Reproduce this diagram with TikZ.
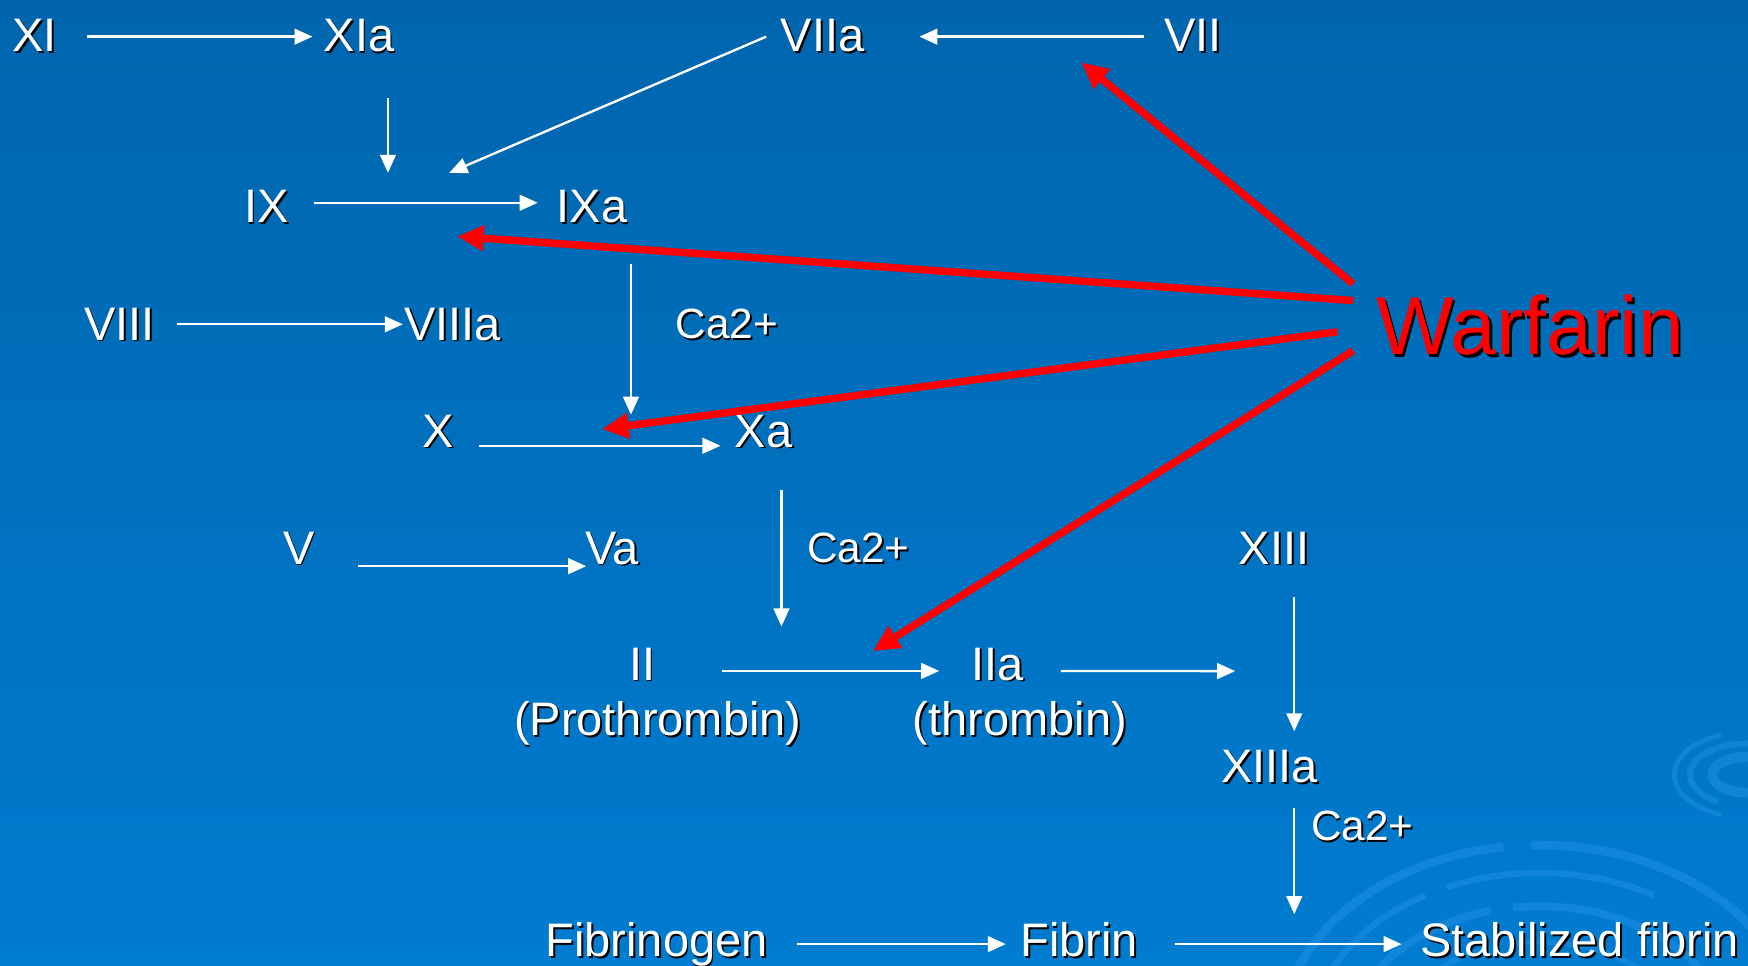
\documentclass[tikz,border=0pt]{standalone}
\usepackage{fontspec}
\setmainfont{Liberation Sans}
\usetikzlibrary{arrows.meta}

\definecolor{bgtop}{RGB}{0,101,173}
\definecolor{bgmid}{RGB}{0,106,181}
\definecolor{bgbot}{RGB}{0,124,208}
\definecolor{ring}{RGB}{40,150,235}

\tikzset{
  fac/.style={text=white, font=\fontsize{12}{14}\selectfont, inner sep=0pt,
              text height=8.6pt, text depth=0pt, anchor=base},
  ion/.style={fac, font=\fontsize{10.8}{13}\selectfont, text height=7.7pt},
  drug/.style={fac, text=red, font=\fontsize{21}{25}\selectfont, text height=15pt},
  drop/.style={text=black, shift={(0.45pt,-0.45pt)}},
  bigdrop/.style={text=black, shift={(0.7pt,-0.7pt)}},
  wa/.style={draw=white, line width=0.6pt, -{Triangle[length=4.6pt,width=4pt]}},
  ra/.style={draw=red, line width=1.9pt, -{Triangle[length=6.8pt,width=6.2pt]}},
  swirl/.style={draw=ring, opacity=0.4},
}

% label with a dark drop shadow: [style]{name}{position}{text}
\newcommand\lbl[4][fac]{%
  \node[#1,drop] (#2-sh) at (#3) {#4};
  \node[#1] (#2) at (#3) {#4};}

\begin{document}
\begin{tikzpicture}[x=0.1mm,y=-0.1mm]
  % background
  \shade[top color=bgtop, middle color=bgmid, bottom color=bgbot]
    (0,0) rectangle (1568,866);
  \useasboundingbox (0,0) rectangle (1568,866);

  % faint ripples in the lower right
  \begin{scope}
    \clip (0,0) rectangle (1568,866);
    \draw[swirl, line width=2.2pt] (1381,933) ++(190:233 and 175) arc (190:262:233 and 175);
    \draw[swirl, line width=2.2pt] (1381,933) ++(268:233 and 175) arc (268:350:233 and 175);
    \draw[swirl, line width=1.6pt] (1381,933) ++(175:205 and 150) arc (175:240:205 and 150);
    \draw[swirl, line width=1.6pt] (1381,933) ++(246:205 and 150) arc (246:300:205 and 150);
    \draw[swirl, line width=2pt] (1381,933) ++(200:170 and 120) arc (200:255:170 and 120);
    \draw[swirl, line width=2pt] (1381,933) ++(262:170 and 120) arc (262:330:170 and 120);
    \draw[swirl, line width=1.4pt] (1381,933) ++(190:130 and 88) arc (190:250:130 and 88);
    \draw[swirl, line width=1.4pt] (1381,933) ++(258:130 and 88) arc (258:320:130 and 88);
    \draw[swirl, line width=2.5pt] (1566,695) ellipse (30 and 16);
    \draw[swirl, line width=1.5pt] (1566,695) ++(120:50 and 28) arc (120:330:50 and 28);
    \draw[swirl, line width=1.2pt] (1566,695) ++(110:64 and 38) arc (110:250:64 and 38);
  \end{scope}

  % factors
  \lbl{XI}{31,46}{XI}
  \lbl{XIa}{322,46}{XIa}
  \lbl{VIIa}{738,46}{VIIa}
  \lbl{VII}{1070,46}{VII}
  \lbl{IX}{239,200}{IX}
  \lbl{IXa}{531,200}{IXa}
  \lbl{VIII}{107,305}{VIII}
  \lbl{VIIIa}{406,305}{VIIIa}
  \lbl[ion]{ca1}{652,304}{Ca2+}
  \lbl{X}{393,401}{X}
  \lbl{Xa}{685,401}{Xa}
  \lbl{V}{268,506}{V}
  \lbl{Va}{549,506}{Va}
  \lbl[ion]{ca2}{770,505}{Ca2+}
  \lbl{XIII}{1143,506}{XIII}
  \lbl{II}{576,610}{II}
  \lbl{IIname}{590,660}{(Prothrombin)}
  \lbl{IIa}{895,610}{IIa}
  \lbl{IIaname}{915,660}{(thrombin)}
  \lbl{XIIIa}{1139,702}{XIIIa}
  \lbl[ion]{ca3}{1222,754}{Ca2+}
  \lbl{Fbg}{589,858}{Fibrinogen}
  \lbl{Fb}{968,858}{Fibrin}
  \lbl{SFb}{1417,858}{Stabilized fibrin}

  \node[drug,bigdrop] (W-sh) at (1372.5,318) {Warfarin};
  \node[drug] (W) at (1372.5,318) {Warfarin};

  % free ends of the activation arrows
  \coordinate (toIX) at (403,155);
  \coordinate (XIadown) at (348,155);
  \coordinate (IXadown) at (566,372);
  \coordinate (Xadown) at (701,562);
  \coordinate (IIaout) at (1108,602);
  \coordinate (XIIIdown) at (1161,656);
  \coordinate (XIIIadown) at (1161,820);

  % cascade arrows
  \draw[wa] ([shift={(26,2)}]XI.east) -- ([shift={(-9.3,2)}]XIa.west);
  \draw[wa] ([shift={(-17.2,2)}]VII.west) -- ([shift={(48.5,2)}]VIIa.east);
  \draw[wa] ([shift={(-12.5,2)}]VIIa.west) -- (toIX);
  \draw[wa] ([shift={(26,41)}]XIa.south) -- (XIadown);
  \draw[wa] ([shift={(22,-3)}]IX.east) -- ([shift={(-16.3,-3)}]IXa.west);
  \draw[wa] ([shift={(19.3,1)}]VIII.east) -- ([shift={(-0.6,1)}]VIIIa.west);
  \draw[wa] ([shift={(35,36)}]IXa.south) -- (IXadown);
  \draw[wa] ([shift={(22,14)}]X.east) -- ([shift={(-12.2,14)}]Xa.west);
  \draw[wa] ([shift={(16,38)}]Xa.south) -- (Xadown);
  \draw[wa] ([shift={(38,17)}]V.east) -- ([shift={(1.8,17)}]Va.west);
  \draw[wa] ([shift={(59.3,7)}]II.east) -- ([shift={(-28.4,7)}]IIa.west);
  \draw[wa] ([shift={(32.4,7)}]IIa.east) -- (IIaout);
  \draw[wa] ([shift={(18,29)}]XIII.south) -- (XIIIdown);
  \draw[wa] ([shift={(22,22)}]XIIIa.south) -- (XIIIadown);
  \draw[wa] ([shift={(25.4,4)}]Fbg.east) -- ([shift={(-12.3,4)}]Fb.west);
  \draw[wa] ([shift={(32.3,4)}]Fb.east) -- ([shift={(-16,4)}]SFb.west);

  % warfarin targets
  \coordinate (hitVII) at (970,56);
  \coordinate (hitIX) at (410,212);
  \coordinate (hitX) at (540,385);
  \coordinate (hitII) at (783,584);
  \draw[ra] ([shift={(-20,-37)}]W.west) -- (hitVII);
  \draw[ra] ([shift={(-20,-22)}]W.west) -- (hitIX);
  \draw[ra] ([shift={(-34,6)}]W.west) -- (hitX);
  \draw[ra] ([shift={(-20,23)}]W.west) -- (hitII);
\end{tikzpicture}
\end{document}
